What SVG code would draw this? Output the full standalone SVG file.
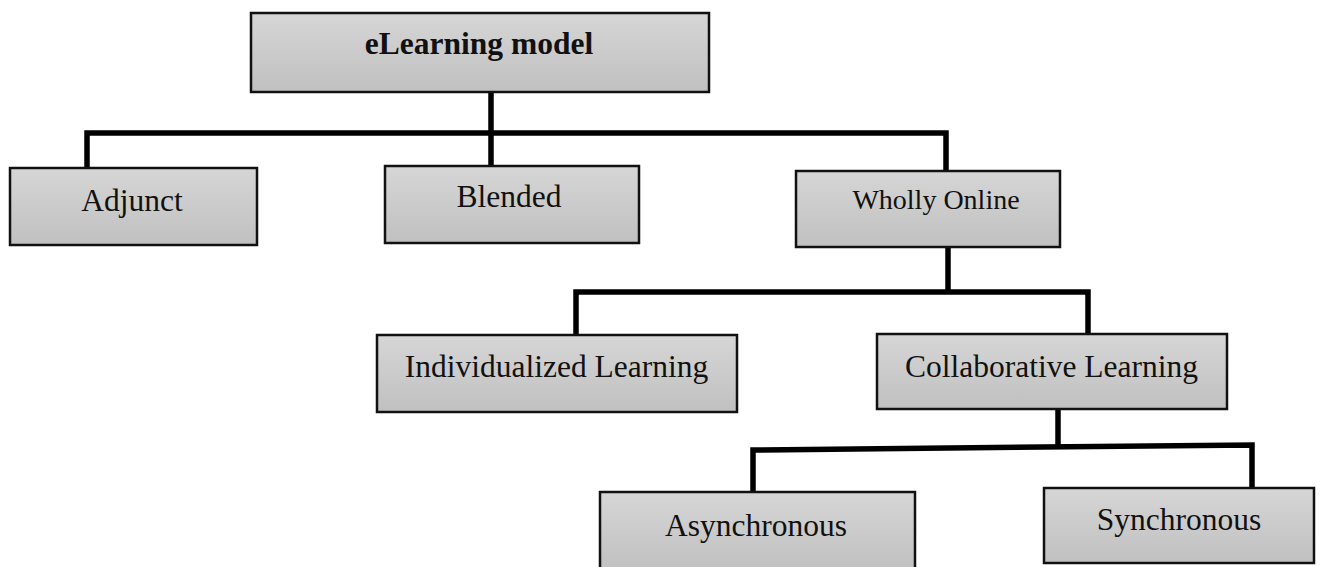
<svg xmlns="http://www.w3.org/2000/svg" width="1321" height="567" viewBox="0 0 1321 567">
<defs>
<linearGradient id="g" x1="0" y1="0" x2="0" y2="1">
<stop offset="0" stop-color="#d6d6d6"/>
<stop offset="1" stop-color="#c0c0c0"/>
</linearGradient>
<style>
.box{fill:url(#g);stroke:#111;stroke-width:2.5}
.t{font-family:"Liberation Serif","Times New Roman",serif;font-size:31.5px;fill:#111;text-anchor:middle}
.b{font-weight:bold}
.c{fill:none;stroke:#000;stroke-width:5.5;stroke-linejoin:miter;stroke-linecap:butt}
</style>
</defs>
<rect width="1321" height="567" fill="#fff"/>
<g id="connectors">
<path class="c" d="M87,168 V133 H946 V171"/>
<path class="c" d="M491,92 V166"/>
<path class="c" d="M948,247 V292"/>
<path class="c" d="M576,335 V292 H1088 V334"/>
<path class="c" d="M1058,409 V448"/>
<path class="c" d="M753,492 V450 L1252,445 V488"/>
</g>
<g id="elearning">
<rect class="box" x="251" y="13" width="458" height="79"/>
<text class="t b" x="479" y="54">eLearning model</text>
</g>
<g id="adjunct">
<rect class="box" x="10" y="168" width="247" height="77"/>
<text class="t" x="132" y="211">Adjunct</text>
</g>
<g id="blended">
<rect class="box" x="385" y="166" width="254" height="77"/>
<text class="t" x="509" y="207">Blended</text>
</g>
<g id="wholly">
<rect class="box" x="796" y="171" width="264" height="76"/>
<text class="t" x="936" y="209" style="font-size:28px">Wholly Online</text>
</g>
<g id="individualized">
<rect class="box" x="377" y="335" width="360" height="77"/>
<text class="t" x="556.5" y="377">Individualized Learning</text>
</g>
<g id="collaborative">
<rect class="box" x="877" y="334" width="350" height="75"/>
<text class="t" x="1051.5" y="377">Collaborative Learning</text>
</g>
<g id="asynchronous">
<rect class="box" x="600" y="492" width="315" height="80"/>
<text class="t" x="756" y="536">Asynchronous</text>
</g>
<g id="synchronous">
<rect class="box" x="1044" y="488" width="270" height="75"/>
<text class="t" x="1179" y="530">Synchronous</text>
</g>
</svg>
